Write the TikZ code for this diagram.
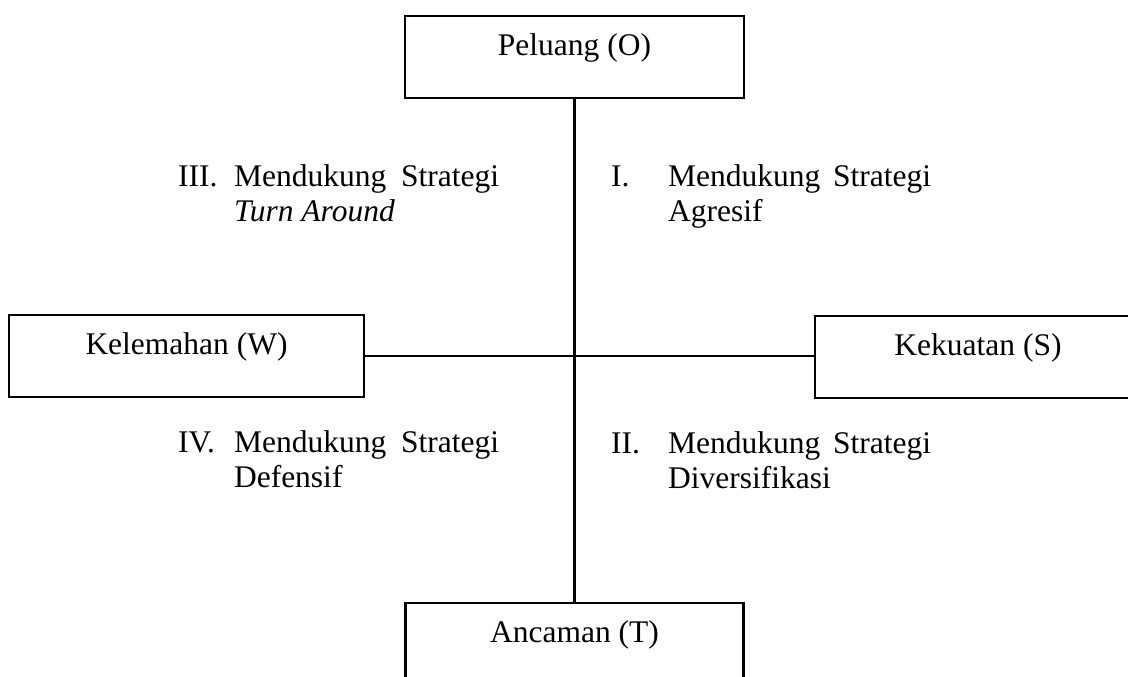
\documentclass[tikz,border=0pt]{standalone}
\usepackage{fontspec}
\setmainfont{Liberation Serif}
\begin{document}
\begin{tikzpicture}[x=0.381pt,y=-0.381pt,
  font=\fontsize{12}{13.4}\selectfont,
  line width=0.8pt,
  box/.style={draw, rectangle, inner sep=0pt, text height=14.86pt, text depth=16.38pt},
  lbl/.style={anchor=base west, inner sep=0pt}]
\useasboundingbox (0,0) rectangle (1128,677);
\clip (0,0) rectangle (1128,677);
% boxes
\node[box, minimum width=129.2pt] (O) at (574.5,57) {Peluang (O)};
\node[box, minimum width=128.8pt] (T) at (574.5,644) {Ancaman (T)};
\node[box, minimum width=135.3pt] (W) at (186.5,356) {Kelemahan (W)};
\node[box, minimum width=124.2pt] (S) at (978,357) {Kekuatan (S)};
% axes
\draw (O.south) -- (T.north);
\draw (W.east) -- (W.east -| S.west);
% quadrant III
\node[lbl] (n3) at (177,187) {III.};
\node[lbl] (q3a) at (233,187) {\makebox[100.97pt][s]{Mendukung Strategi}};
\node[lbl] (q3b) at (233,222) {\textit{Turn Around}};
% quadrant I
\node[lbl] (n1) at (610,187) {I.};
\node[lbl] (q1a) at (667,187) {\makebox[100.2pt][s]{Mendukung Strategi}};
\node[lbl] (q1b) at (667,222) {Agresif};
% quadrant IV
\node[lbl] (n4) at (177,452) {IV.};
\node[lbl] (q4a) at (233,452) {\makebox[100.97pt][s]{Mendukung Strategi}};
\node[lbl] (q4b) at (233,487) {Defensif};
% quadrant II
\node[lbl] (n2) at (610,453) {II.};
\node[lbl] (q2a) at (667,453) {\makebox[100.2pt][s]{Mendukung Strategi}};
\node[lbl] (q2b) at (667,488) {Diversifikasi};
\end{tikzpicture}
\end{document}
